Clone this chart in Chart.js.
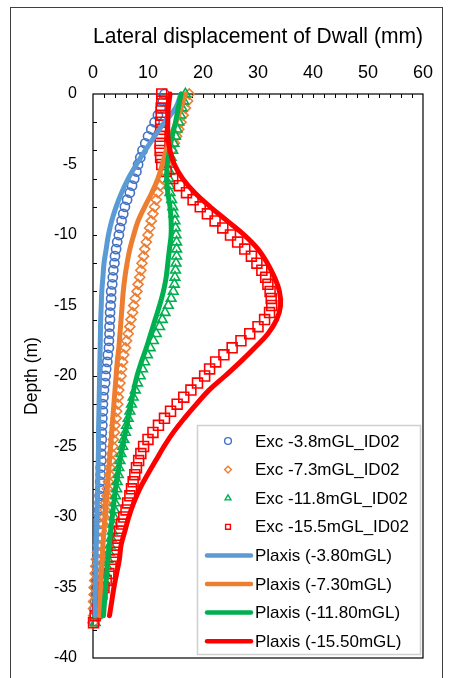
<!DOCTYPE html>
<html>
<head>
<meta charset="utf-8">
<script src="https://cdn.jsdelivr.net/npm/chart.js@4.4.1/dist/chart.umd.min.js"></script>
<style>
  html, body { margin: 0; padding: 0; background: #fff; overflow: hidden; }
  #frame { position: absolute; left: 10px; top: 7px; width: 431px; height: 690px; border: 1px solid #404040; }
  #chart { position: absolute; left: 0; top: 0; }
</style>
</head>
<body>
<div id="frame"></div>
<canvas id="chart" width="453" height="678"></canvas>
<script>
// depths (m) of the inclinometer readings and of the Plaxis output
const excDepth = [0, -0.5, -1, -1.5, -2, -2.5, -3, -3.5, -4, -4.5,
  -5, -5.5, -6, -6.5, -7, -7.5, -8, -8.5, -9, -9.5,
  -10, -10.5, -11, -11.5, -12, -12.5, -13, -13.5, -14, -14.5,
  -15, -15.5, -16, -16.5, -17, -17.5, -18, -18.5, -19, -19.5,
  -20, -20.5, -21, -21.5, -22, -22.5, -23, -23.5, -24, -24.5,
  -25, -25.5, -26, -26.5, -27, -27.5, -28, -28.5, -29, -29.5,
  -30, -30.5, -31, -31.5, -32, -32.5, -33, -33.5, -34, -34.5,
  -35, -35.5, -36, -36.5, -37, -37.5]
const plaxisDepth = [0, -1, -2, -3, -4, -5, -6, -7, -8, -9,
  -10, -11, -12, -13, -14, -15, -16, -17, -18, -19,
  -20, -21, -22, -23, -24, -25, -26, -27, -28, -29,
  -30, -31, -32, -33, -34, -35, -36, -37]

// measured lateral displacement (mm)
const exc38 = [13.0, 12.7, 12.3, 11.8, 11.2, 10.6, 10.0, 9.5, 9.0, 8.6,
  8.2, 7.9, 7.5, 7.1, 6.7, 6.2, 5.8, 5.5, 5.2, 4.9,
  4.7, 4.4, 4.2, 4.0, 3.9, 3.7, 3.6, 3.5, 3.3, 3.3,
  3.2, 3.1, 3.1, 3.0, 3.0, 2.9, 2.9, 2.7, 2.6, 2.4,
  2.3, 2.2, 2.0, 1.9, 1.8, 1.8, 1.7, 1.7, 1.6, 1.6,
  1.5, 1.5, 1.5, 1.4, 1.4, 1.3, 1.3, 1.2, 1.2, 1.1,
  1.1, 1.0, 1.0, 0.9, 0.9, 0.8, 0.8, 0.7, 0.7, 0.6,
  0.5, 0.5, 0.4, 0.3, 0.3, 0.2]
const exc73 = [17.5, 17.2, 16.8, 16.4, 16.0, 15.6, 15.2, 14.8, 14.3, 13.9,
  13.4, 13.0, 12.6, 12.2, 11.8, 11.5, 11.2, 10.9, 10.6, 10.3,
  10.0, 9.7, 9.4, 9.2, 8.9, 8.7, 8.5, 8.2, 8.0, 7.7,
  7.4, 7.2, 6.9, 6.7, 6.4, 6.1, 5.9, 5.6, 5.4, 5.2,
  5.1, 4.9, 4.7, 4.6, 4.5, 4.3, 4.2, 4.0, 3.9, 3.7,
  3.6, 3.4, 3.3, 3.1, 3.0, 2.8, 2.6, 2.5, 2.3, 2.2,
  2.0, 1.8, 1.5, 1.3, 1.0, 0.8, 0.6, 0.5, 0.4, 0.3,
  0.2, 0.2, 0.1, 0.1, 0.1, 0.0]
const exc118 = [16.8, 16.5, 16.2, 15.9, 15.6, 15.3, 15.0, 14.7, 14.5, 14.2,
  14.0, 13.9, 13.8, 13.9, 14.0, 14.3, 14.5, 14.7, 14.9, 15.0,
  15.1, 15.2, 15.2, 15.2, 15.1, 15.0, 14.9, 14.8, 14.6, 14.2,
  13.7, 13.1, 12.6, 12.1, 11.5, 11.0, 10.4, 9.9, 9.4, 9.0,
  8.6, 8.1, 7.7, 7.3, 7.0, 6.7, 6.4, 6.1, 5.9, 5.6,
  5.4, 5.1, 4.9, 4.7, 4.6, 4.4, 4.3, 4.1, 4.0, 3.9,
  3.8, 3.6, 3.5, 3.3, 3.1, 2.9, 2.7, 2.5, 2.3, 2.0,
  1.8, 1.5, 1.3, 1.0, 0.7, 0.4]
const exc155 = [12.5, 12.5, 12.4, 12.4, 12.3, 12.3, 12.2, 12.2, 12.2, 12.3,
  12.5, 13.3, 14.5, 15.7, 17.0, 18.2, 19.5, 20.8, 22.2, 23.6,
  25.0, 26.3, 27.6, 28.8, 29.8, 30.7, 31.4, 31.8, 32.2, 32.4,
  32.5, 32.1, 31.2, 30.0, 28.5, 26.9, 25.3, 23.8, 22.3, 21.2,
  20.3, 19.0, 17.8, 16.5, 15.3, 14.1, 13.0, 11.9, 10.9, 10.0,
  9.2, 8.7, 8.3, 7.9, 7.6, 7.3, 7.0, 6.7, 6.3, 6.0,
  5.6, 5.2, 4.8, 4.5, 4.3, 4.0, 3.7, 3.3, 2.9, 2.4,
  2.0, 1.6, 1.2, 0.8, 0.4, 0.1]

// Plaxis prediction (mm)
const plx38 = [16.0, 15.0, 13.0, 11.2, 9.5, 7.9, 6.4, 5.2, 4.2, 3.4,
  2.8, 2.4, 2.0, 1.8, 1.6, 1.5, 1.4, 1.35, 1.3, 1.25,
  1.2, 1.15, 1.1, 1.05, 1.0, 1.0, 0.95, 0.9, 0.85, 0.8,
  0.7, 0.65, 0.6, 0.55, 0.5, 0.45, 0.4, 0.4]
const plx73 = [16.8, 16.0, 15.1, 14.1, 13.3, 12.6, 11.8, 10.7, 9.4, 8.2,
  7.4, 6.7, 6.2, 5.8, 5.5, 5.3, 5.1, 4.9, 4.7, 4.4,
  4.2, 4.0, 3.8, 3.6, 3.4, 3.2, 3.0, 2.8, 2.6, 2.4,
  2.2, 2.0, 1.8, 1.7, 1.5, 1.4, 1.3, 1.2]
const plx118 = [16.0, 15.5, 15.0, 14.4, 13.9, 13.5, 13.4, 13.6, 14.0, 14.2,
  14.2, 13.9, 13.6, 13.3, 12.8, 12.1, 11.3, 10.5, 9.7, 8.8,
  8.0, 7.4, 6.9, 6.4, 5.9, 5.4, 4.9, 4.5, 4.1, 3.8,
  3.5, 3.2, 3.0, 2.7, 2.5, 2.3, 2.1, 1.9]
const plx155 = [14.0, 13.7, 13.6, 13.6, 14.0, 14.8, 16.3, 18.5, 21.3, 24.4,
  27.5, 30.0, 31.7, 33.0, 33.9, 34.1, 33.4, 31.8, 29.4, 26.8,
  24.0, 21.1, 18.8, 16.6, 14.6, 12.9, 11.4, 9.9, 8.5, 7.4,
  6.5, 5.8, 5.1, 4.8, 4.3, 3.8, 3.4, 3.0]

const excNames = ['Exc -3.8mGL_ID02', 'Exc -7.3mGL_ID02', 'Exc -11.8mGL_ID02', 'Exc -15.5mGL_ID02']
const plxNames = ['Plaxis (-3.80mGL)', 'Plaxis (-7.30mGL)', 'Plaxis (-11.80mGL)', 'Plaxis (-15.50mGL)']
const excColors = ['#4472C4', '#ED7D31', '#00B050', '#FF0000']
const plxColors = ['#5B9BD5', '#ED7D31', '#00B050', '#FF0000']
const excStyles = ['circle', 'rectRot', 'triangle', 'rect']
const excRadius = [4.6, 5, 5.6, 7]

const FONT = "'Liberation Sans', Arial, sans-serif"
Chart.defaults.font.family = FONT
Chart.defaults.color = '#000'

const toPts = (xs, ys) => xs.map((v, i) => ({ x: v, y: ys[i] }))

const excSeries = [exc38, exc73, exc118, exc155]
const plxSeries = [plx38, plx73, plx118, plx155]

const datasets = []
excSeries.forEach((vals, i) => {
    datasets.push({
        label: excNames[i],
        data: toPts(vals, excDepth),
        showLine: false,
        pointStyle: excStyles[i],
        pointRadius: excRadius[i],
        pointBorderWidth: 1.6,
        borderColor: excColors[i],
        backgroundColor: 'rgba(0,0,0,0)',
        clip: false,
        order: 8 - i
    })
})
plxSeries.forEach((vals, i) => {
    datasets.push({
        label: plxNames[i],
        data: toPts(vals, plaxisDepth),
        showLine: true,
        pointRadius: 0,
        borderWidth: 5,
        borderColor: plxColors[i],
        borderCapStyle: 'round',
        tension: 0.4,
        clip: false,
        order: 4 - i
    })
})

function drawMarker(ctx, style, x, y, r) {
    ctx.beginPath()
    if (style === 'circle') {
        ctx.arc(x, y, r, 0, Math.PI * 2)
    } else if (style === 'rectRot') {
        ctx.moveTo(x, y - r); ctx.lineTo(x + r, y); ctx.lineTo(x, y + r); ctx.lineTo(x - r, y); ctx.closePath()
    } else if (style === 'triangle') {
        ctx.moveTo(x, y - r); ctx.lineTo(x + r * 0.87, y + r * 0.5); ctx.lineTo(x - r * 0.87, y + r * 0.5); ctx.closePath()
    } else {
        ctx.rect(x - r * 0.71, y - r * 0.71, r * 1.42, r * 1.42)
    }
    ctx.stroke()
}

// inward tick marks, plot box and the boxed legend
const frameAndLegend = {
    id: 'frameAndLegend',
    beforeDatasetsDraw(chart) {
        const { ctx, chartArea: a, scales: { x, y } } = chart
        ctx.save()
        ctx.strokeStyle = '#000'
        ctx.lineWidth = 1.2
        ctx.strokeRect(a.left, a.top, a.right - a.left, a.bottom - a.top)
        ctx.lineWidth = 1
        ctx.beginPath()
        for (let v = 2; v < 60; v += 2) {
            const px = Math.round(x.getPixelForValue(v)) + 0.5
            ctx.moveTo(px, a.top); ctx.lineTo(px, a.top + 4)
        }
        for (let v = -2; v > -40; v -= 2) {
            const py = Math.round(y.getPixelForValue(v)) + 0.5
            ctx.moveTo(a.left, py); ctx.lineTo(a.left + 4, py)
        }
        ctx.stroke()
        ctx.restore()
    },
    afterDraw(chart) {
        const { ctx, chartArea: a } = chart
        const w = 223, h = 229
        const left = a.right - 3 - w, top = a.bottom - 4 - h
        const rowH = 28.6
        ctx.save()
        ctx.fillStyle = '#fff'
        ctx.fillRect(left, top, w, h)
        ctx.strokeStyle = '#D0D0D0'
        ctx.lineWidth = 1.5
        ctx.strokeRect(left + 0.5, top + 0.5, w, h)
        ctx.font = '17px ' + FONT
        ctx.textBaseline = 'middle'
        ctx.textAlign = 'left'
        chart.data.datasets.forEach((ds, i) => {
            const cy = top + 16 + i * rowH
            if (ds.showLine) {
                ctx.strokeStyle = ds.borderColor
                ctx.lineWidth = 4.5
                ctx.lineCap = 'round'
                ctx.beginPath()
                ctx.moveTo(left + 10, cy); ctx.lineTo(left + 54, cy)
                ctx.stroke()
            } else {
                ctx.strokeStyle = ds.borderColor
                ctx.lineWidth = 1.4
                drawMarker(ctx, ds.pointStyle, left + 31, cy, 3.4)
            }
            ctx.fillStyle = '#000'
            ctx.fillText(ds.label, left + 58, cy + 1)
        })
        ctx.restore()
    }
}

new Chart(document.getElementById('chart'), {
    type: 'scatter',
    data: { datasets },
    options: {
        responsive: false,
        animation: false,
        devicePixelRatio: 1,
        layout: { padding: { left: 10, right: 30, top: 0, bottom: 20 } },
        plugins: { legend: { display: false }, tooltip: { enabled: false } },
        scales: {
            x: {
                type: 'linear',
                position: 'top',
                min: 0,
                max: 60,
                ticks: { stepSize: 10, font: { size: 18 }, padding: 10, color: '#000' },
                grid: { display: false, drawTicks: false },
                border: { display: false },
                title: {
                    display: true,
                    text: 'Lateral displacement of Dwall (mm)',
                    font: { size: 22 },
                    color: '#000',
                    padding: { top: 24, bottom: 0 }
                },
                afterFit: s => { s.height = 94; s.paddingLeft = 0; s.paddingRight = 0 }
            },
            y: {
                type: 'linear',
                min: -40,
                max: 0,
                ticks: { stepSize: 5, font: { size: 16 }, padding: 16, color: '#000' },
                grid: { display: false, drawTicks: false },
                border: { display: false },
                title: {
                    display: true,
                    text: 'Depth (m)',
                    font: { size: 17.5 },
                    color: '#000',
                    padding: { top: 12, bottom: 0 }
                },
                afterFit: s => { s.width = 83; s.paddingTop = 0; s.paddingBottom = 0 }
            }
        }
    },
    plugins: [frameAndLegend]
})
</script>
</body>
</html>
